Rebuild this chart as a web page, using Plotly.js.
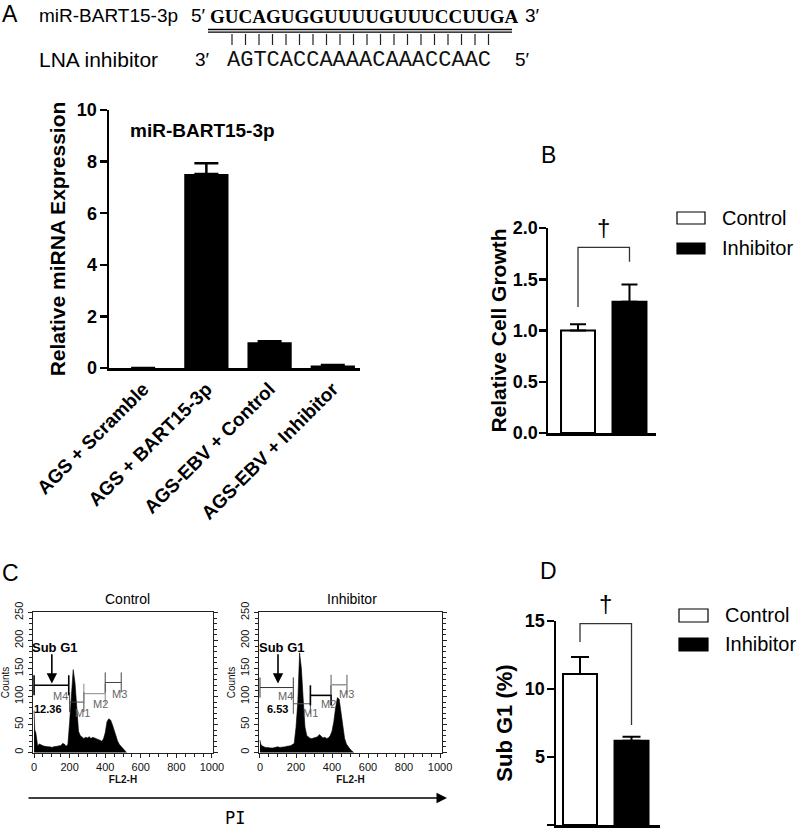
<!DOCTYPE html>
<html><head><meta charset="utf-8">
<script src="https://cdn.plot.ly/plotly-3.0.1.min.js"></script>
<style>html,body{margin:0;padding:0;background:#fff}#chart{width:800px;height:834px}</style>
</head><body><div id="chart"></div>
<script>
const W = 800, H = 834;
const px = x => x / W, py = y => 1 - y / H;

// ---------- Data ----------
// Panel A
const expCategories = ['AGS + Scramble', 'AGS + BART15-3p', 'AGS-EBV + Control', 'AGS-EBV + Inhibitor'];
const expValues = [0, 7.52, 1.0, 0.1];
const expErrors = [NaN, 0.42, 0.04, 0.02];   // no visible error bar on the scramble control
const expTicks = [0, 2, 4, 6, 8, 10];
// Panel B
const groups = ['Control', 'Inhibitor'];
const growthValues = [1.0, 1.28];
const growthErrors = [0.06, 0.17];
const growthBracket = [1.23, 1.81, 1.67];
const growthTicks = [0, 0.5, 1.0, 1.5, 2.0];
// Panel D
const subG1Values = [11.1, 6.2];
const subG1Errors = [1.25, 0.28];
const subG1Bracket = [13.45, 14.8, 7.35];
const subG1Ticks = [0, 5, 10, 15];
// Panel C (flow cytometry histograms)
const flChannels = [0, 4, 10, 20, 30, 40, 50, 60, 70, 80, 90, 100, 110, 120, 130, 140, 150, 160, 170, 180, 190,
  200, 210, 220, 230, 240, 250, 260, 270, 280, 290, 300, 310, 320, 330, 340, 350, 360, 370, 380, 390,
  400, 410, 420, 430, 440, 450, 460, 470, 480, 490, 500, 510, 520];
const ctrlCounts = [75, 40, 35, 12, 15, 13, 12, 11, 10, 10, 10, 9, 10, 10, 11, 12, 12, 16, 15, 11, 14,
  55, 100, 148, 125, 70, 38, 30, 27, 25, 27, 26, 28, 25, 27, 26, 25, 24, 22, 20, 24,
  35, 55, 60, 58, 50, 40, 28, 20, 14, 10, 6, 3, 0];
const inhCounts = [22, 15, 12, 10, 9, 9, 8, 8, 8, 9, 9, 10, 9, 9, 10, 10, 11, 11, 12, 14, 16,
  45, 90, 178, 150, 95, 45, 30, 27, 25, 25, 26, 27, 28, 32, 28, 26, 27, 25, 26, 30,
  38, 55, 80, 98, 95, 70, 42, 25, 15, 10, 6, 3, 0];
const countTicks = [0, 50, 100, 150, 200, 250];
const flTicks = [0, 200, 400, 600, 800, 1000];
const gateNames = ['M4', 'M1', 'M2', 'M3'];
const ctrlGateStart = [0, 200, 280, 400];
const ctrlGateEnd = [195, 280, 400, 490];
const ctrlGateLevel = [120, 90, 105, 125];
const inhGateStart = [0, 185, 280, 395];
const inhGateEnd = [185, 280, 395, 483];
const inhGateLevel = [116, 87, 102, 121];
const subG1Pct = ['12.36', '6.53'];
// Sequences
const mirSeq = 'GUCAGUGGUUUUGUUUCCUUGA';
const lnaSeq = 'AGTCACCAAAACAAACCAAC';

// ---------- Styles ----------
const FONT = 'Liberation Sans, Arial, sans-serif';
const bold = (s, c) => ({family: FONT, size: s, color: c || '#000', weight: 'bold'});
const reg = (s, c) => ({family: FONT, size: s, color: c || '#000'});

const traces = [
  {type: 'bar', x: expCategories, y: expValues, xaxis: 'x', yaxis: 'y', width: 0.7,
   marker: {color: '#000', line: {color: '#000', width: 0}},
   error_y: {type: 'data', symmetric: false, array: expErrors, arrayminus: expErrors.map(() => 0),
             color: '#000', thickness: 2.5, width: 12}, showlegend: false, hoverinfo: 'x+y'},
  {type: 'bar', x: groups.map((g, i) => i), y: growthValues, xaxis: 'x2', yaxis: 'y2', width: 0.66,
   marker: {color: ['#fff', '#000'], line: {color: '#000', width: 2}}, text: groups, hoverinfo: 'text+y',
   textposition: 'none',
   error_y: {type: 'data', symmetric: false, array: growthErrors, arrayminus: [0, 0],
             color: '#000', thickness: 2, width: 8}, showlegend: false},
  {type: 'bar', x: groups.map((g, i) => i), y: subG1Values, xaxis: 'x3', yaxis: 'y3', width: 0.66,
   marker: {color: ['#fff', '#000'], line: {color: '#000', width: 2}}, text: groups, hoverinfo: 'text+y',
   textposition: 'none',
   error_y: {type: 'data', symmetric: false, array: subG1Errors, arrayminus: [0, 0],
             color: '#000', thickness: 2, width: 9}, showlegend: false},
  {type: 'scatter', mode: 'lines', x: flChannels, y: ctrlCounts, xaxis: 'x4', yaxis: 'y4',
   fill: 'tozeroy', fillcolor: '#000', line: {color: '#000', width: 0.6}, showlegend: false},
  {type: 'scatter', mode: 'lines', x: flChannels, y: inhCounts, xaxis: 'x5', yaxis: 'y5',
   fill: 'tozeroy', fillcolor: '#000', line: {color: '#000', width: 0.6}, showlegend: false}
];

const barY = (dom, rng, ticks, title, standoff, tfs, tls) => ({
  domain: dom, range: rng, tickvals: ticks, ticks: 'outside', ticklen: 7, tickwidth: 2.5, tickcolor: '#000',
  showline: true, linewidth: 2.5, linecolor: '#000', showgrid: false, zeroline: false, ticklabelstandoff: tls,
  tickfont: bold(18), title: {text: title, font: bold(tfs), standoff: standoff}
});
const histX = (dom, rng, anchor) => ({
  domain: dom, range: rng, anchor: anchor, tickvals: flTicks, ticks: 'outside', ticklen: 4, tickwidth: 1,
  tickcolor: '#222', minor: {dtick: 50, tick0: 0, ticks: 'outside', ticklen: 2.5, tickcolor: '#222', showgrid: false},
  showline: true, mirror: true, linecolor: '#222', linewidth: 1.2, showgrid: false, zeroline: false,
  tickfont: reg(11, '#111'), title: {text: 'FL2-H', font: bold(10, '#111'), standoff: 3}
});
const histY = (dom, anchor) => ({
  domain: dom, range: [-1, 251], anchor: anchor, tickvals: countTicks, tickangle: -90, ticks: 'outside', ticklen: 4,
  tickcolor: '#222', minor: {dtick: 10, tick0: 0, ticks: 'outside', ticklen: 2.5, tickcolor: '#222', showgrid: false},
  showline: true, mirror: 'ticks', linecolor: '#222', linewidth: 1.2, showgrid: false, zeroline: false,
  tickfont: reg(11, '#111'), title: {text: 'Counts', font: reg(10, '#111'), standoff: 2}
});

const layout = {
  width: W, height: H, margin: {l: 0, r: 0, t: 0, b: 0, pad: 0},
  paper_bgcolor: '#fff', plot_bgcolor: 'rgba(0,0,0,0)', font: {family: FONT, color: '#000'},
  showlegend: false,
  xaxis: {domain: [px(109), px(360)], anchor: 'y', type: 'category', range: [-0.54, 3.43],
          showline: true, linewidth: 2.5, linecolor: '#000', ticks: '', tickangle: -45,
          tickfont: bold(19), showgrid: false, zeroline: false},
  yaxis: Object.assign(barY([py(368), py(110)], [0, 10], expTicks, 'Relative miRNA Expression', 6, 21, -1), {anchor: 'x'}),
  xaxis2: {domain: [px(548), px(656)], anchor: 'y2', range: [-0.583, 1.515], showline: true, linewidth: 2.5,
           linecolor: '#000', ticks: '', showticklabels: false, showgrid: false, zeroline: false},
  yaxis2: Object.assign(barY([py(433), py(228)], [0, 2], growthTicks, 'Relative Cell Growth', 1, 21, -3),
                        {anchor: 'x2', tickformat: '.1f'}),
  xaxis3: {domain: [px(556), px(660)], anchor: 'y3', range: [-0.466, 1.553], showline: true, linewidth: 2.5,
           linecolor: '#000', ticks: '', showticklabels: false, showgrid: false, zeroline: false},
  yaxis3: Object.assign(barY([py(825), py(621)], [0, 15], subG1Ticks, 'Sub G1 (%)', 6, 22, -2), {anchor: 'x3'}),
  xaxis4: histX([px(33), px(213)], [-6, 1006], 'y4'),
  yaxis4: histY([py(753), py(612)], 'x4'),
  xaxis5: histX([px(259), px(442)], [-5.5, 1011], 'y5'),
  yaxis5: histY([py(753), py(612)], 'x5'),
  shapes: [],
  annotations: []
};

const S = layout.shapes, A = layout.annotations;
const paperLine = (x0, y0, x1, y1, w, c) => S.push({type: 'line', xref: 'paper', yref: 'paper',
  x0: px(x0), y0: py(y0), x1: px(x1), y1: py(y1), line: {color: c || '#000', width: w}});
const note = (x, y, text, font, opts) => A.push(Object.assign({xref: 'paper', yref: 'paper', x: px(x), y: py(y),
  text: text, font: font, showarrow: false, xanchor: 'center', yanchor: 'middle'}, opts || {}));

// ---------- Sequence header ----------
note(0, 14, 'A', reg(23), {xanchor: 'left'});
note(37, 16, 'miR-BART15-3p', reg(19), {xanchor: 'left'});
note(189, 16, '5\u2032', reg(19), {xanchor: 'left'});
note(208, 17, mirSeq, {family: 'Liberation Serif, Times New Roman, serif', size: 19, weight: 'bold', color: '#000'}, {xanchor: 'left'});
note(523, 16, '3\u2032', reg(19), {xanchor: 'left'});
paperLine(208, 29.5, 512, 29.5, 1.3);
paperLine(208, 32.2, 512, 32.2, 1.3);
for (let i = 0; i < lnaSeq.length; i++) {
  const x = 232 + i * 13.5;
  paperLine(x, 34, x, 45, 1.2, '#222');
}
note(37, 59, 'LNA inhibitor', reg(21), {xanchor: 'left'});
note(193, 59, '3\u2032', reg(19), {xanchor: 'left'});
note(225, 60, lnaSeq, {family: 'Liberation Mono, Courier New, monospace', size: 22, color: '#111'}, {xanchor: 'left'});
note(513, 59, '5\u2032', reg(19), {xanchor: 'left'});

// ---------- Panel A title ----------
note(202, 130, 'miR-BART15-3p', bold(19));

// ---------- Panel B ----------
note(548, 155, 'B', reg(23));
S.push({type: 'path', xref: 'x2', yref: 'y2', line: {color: '#333', width: 1.3},
  path: `M 0,${growthBracket[0]} L 0,${growthBracket[1]} L 1,${growthBracket[1]} L 1,${growthBracket[2]}`});
A.push({xref: 'x2', yref: 'y2', x: 0.5, y: growthBracket[1], yshift: 20, text: '\u2020', font: reg(24), showarrow: false});
S.push({type: 'rect', xref: 'paper', yref: 'paper', x0: px(677), x1: px(705), y0: py(212), y1: py(224),
        fillcolor: '#fff', line: {color: '#000', width: 1.2}});
S.push({type: 'rect', xref: 'paper', yref: 'paper', x0: px(677), x1: px(705), y0: py(243), y1: py(254),
        fillcolor: '#000', line: {color: '#000', width: 1.2}});
note(720, 218, groups[0], reg(20), {xanchor: 'left'});
note(720, 248, groups[1], reg(20), {xanchor: 'left'});

// ---------- Panel D ----------
note(548, 571, 'D', reg(23));
S.push({type: 'path', xref: 'x3', yref: 'y3', line: {color: '#333', width: 1.3},
  path: `M 0,${subG1Bracket[0]} L 0,${subG1Bracket[1]} L 1,${subG1Bracket[1]} L 1,${subG1Bracket[2]}`});
A.push({xref: 'x3', yref: 'y3', x: 0.5, y: subG1Bracket[1], yshift: 20, text: '\u2020', font: reg(24), showarrow: false});
S.push({type: 'rect', xref: 'paper', yref: 'paper', x0: px(679), x1: px(708), y0: py(609), y1: py(622),
        fillcolor: '#fff', line: {color: '#000', width: 1.2}});
S.push({type: 'rect', xref: 'paper', yref: 'paper', x0: px(679), x1: px(708), y0: py(638), y1: py(651),
        fillcolor: '#000', line: {color: '#000', width: 1.2}});
note(723, 615, groups[0], reg(20), {xanchor: 'left'});
note(723, 644, groups[1], reg(20), {xanchor: 'left'});

// ---------- Panel C ----------
note(0, 573, 'C', reg(23), {xanchor: 'left'});
note(127, 599, groups[0], reg(14));
note(352, 599, groups[1], reg(14));

function gates(xr, yr, starts, ends, levels, colors, widths, labelPos, pct, pctPos) {
  for (let i = 0; i < starts.length; i++) {
    const ln = {color: colors[i], width: widths[i]};
    S.push({type: 'line', xref: xr, yref: yr, x0: starts[i], x1: ends[i], y0: levels[i], y1: levels[i], line: ln});
    S.push({type: 'line', xref: xr, yref: yr, x0: starts[i], x1: starts[i], y0: levels[i] - 18, y1: levels[i] + 18, line: ln});
    S.push({type: 'line', xref: xr, yref: yr, x0: ends[i], x1: ends[i], y0: levels[i] - 18, y1: levels[i] + 18, line: ln});
    A.push({xref: xr, yref: yr, x: labelPos[i][0], y: labelPos[i][1], text: gateNames[i], font: reg(11, '#666'), showarrow: false});
  }
  A.push({xref: xr, yref: yr, x: 120, y: 187, text: 'Sub G1', font: bold(13), showarrow: false});
  A.push({xref: xr, yref: yr, x: 100, y: 123, ax: 100, ay: 178, axref: xr, ayref: yr, text: '',
          showarrow: true, arrowhead: 2, arrowsize: 1.3, arrowwidth: 1.6, arrowcolor: '#000'});
  A.push({xref: xr, yref: yr, x: pctPos[0], y: pctPos[1], text: pct, font: bold(11), showarrow: false});
}
gates('x4', 'y4', ctrlGateStart, ctrlGateEnd, ctrlGateLevel, ['#000', '#444', '#888', '#444'], [1.6, 1, 1, 1],
      [[146, 100], [275, 71], [375, 87], [478, 105]], subG1Pct[0], [76, 77]);
gates('x5', 'y5', inhGateStart, inhGateEnd, inhGateLevel, ['#333', '#555', '#000', '#999'], [1, 1, 1.6, 1.6],
      [[142, 100], [280, 70], [383, 87], [483, 104]], subG1Pct[1], [97, 78]);

// PI arrow
A.push({xref: 'paper', yref: 'paper', x: px(447), y: py(798), ax: -420, ay: 0, axref: 'pixel', ayref: 'pixel',
        text: '', showarrow: true, arrowhead: 2, arrowsize: 1.4, arrowwidth: 1.5, arrowcolor: '#000'});
note(235, 818, 'PI', {family: 'DejaVu Sans Mono, monospace', size: 17, color: '#000'});

Plotly.newPlot('chart', traces, layout, {staticPlot: true, displayModeBar: false});
</script></body></html>
